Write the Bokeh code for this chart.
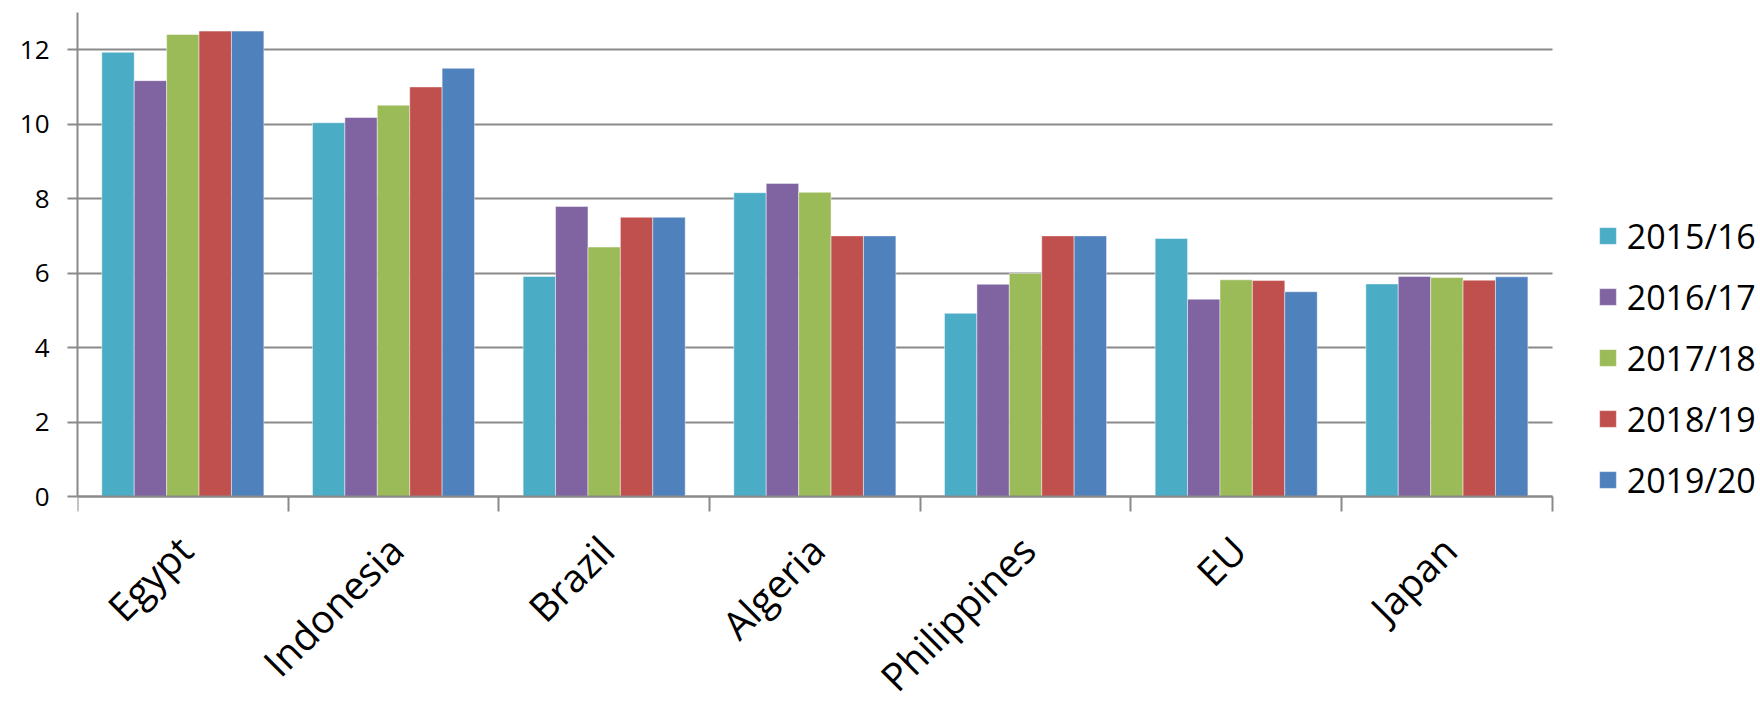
from math import pi
from bokeh.plotting import figure
from bokeh.models import (ColumnDataSource, Range1d, FixedTicker, Legend,
                          LegendItem, LabelSet)
from bokeh.transform import dodge
from bokeh.core.properties import value
from bokeh.embed import file_html
from bokeh.resources import INLINE

# ---- data -------------------------------------------------------------
countries = ["Egypt", "Indonesia", "Brazil", "Algeria", "Philippines", "EU", "Japan"]
seasons = ["2015/16", "2016/17", "2017/18", "2018/19", "2019/20"]
v_2015_16 = [11.93, 10.04, 5.91, 8.16, 4.92, 6.93, 5.71]
v_2016_17 = [11.17, 10.18, 7.79, 8.41, 5.70, 5.30, 5.91]
v_2017_18 = [12.41, 10.51, 6.70, 8.17, 5.99, 5.82, 5.88]
v_2018_19 = [12.50, 11.00, 7.50, 7.00, 7.00, 5.80, 5.81]
v_2019_20 = [12.50, 11.50, 7.50, 7.00, 7.00, 5.50, 5.90]
series = [v_2015_16, v_2016_17, v_2017_18, v_2018_19, v_2019_20]
colors = ["#4BACC6", "#8064A2", "#9BBB59", "#C0504D", "#4F81BD"]
y_ticks = [0, 2, 4, 6, 8, 10, 12]
y_max = 13

FONT = "Open Sans"
GRAY = "#8a8a8a"

# ---- layout (pixels) --------------------------------------------------
W, H = 1760, 706
LEFT, TOP = 77, 12
AXIS_Y = 496          # pixel row of value 0
AXIS_RIGHT = 1551.7   # pixel column where the category axis ends
n = len(countries)
px_per_unit = (AXIS_Y - TOP) / y_max
y_min = -(H - AXIS_Y) / px_per_unit             # room below the axis for labels
x_end = n * (W - LEFT) / (AXIS_RIGHT - LEFT)    # room right of the axis for legend

centers = [i + 0.5 for i in range(n)]
data = dict(x=centers, country=countries)
for s, vals in zip(seasons, series):
    data[s] = vals
src = ColumnDataSource(data)

p = figure(width=W, height=H, output_backend="svg", toolbar_location=None,
           title=None, x_range=Range1d(0, x_end), y_range=Range1d(y_min, y_max),
           min_border_left=LEFT, min_border_right=0, min_border_top=TOP,
           min_border_bottom=0)
p.outline_line_color = None
p.background_fill_color = "white"
p.border_fill_color = "white"

bar_w = 1 / 6.5
items = []
for k, (s, c) in enumerate(zip(seasons, colors)):
    r = p.vbar(x=dodge("x", (k - 2) * bar_w, range=p.x_range), top=s, width=bar_w,
               bottom=0, source=src, fill_color=c, line_color="white",
               line_alpha=0.45, line_width=1)
    items.append(LegendItem(label=s, renderers=[r]))

# y axis (only drawn over 0..y_max)
ya = p.yaxis[0]
ya.bounds = (0, y_max)
ya.ticker = FixedTicker(ticks=y_ticks)
ya.major_label_text_font = FONT
ya.major_label_text_font_size = "26px"
ya.major_label_text_color = "black"
ya.major_label_standoff = 18
ya.major_tick_in = 0
ya.major_tick_out = 10
ya.major_tick_line_color = GRAY
ya.major_tick_line_width = 2
ya.minor_tick_line_color = None
ya.axis_line_color = GRAY
ya.axis_line_width = 2

# x axis at value 0 with ticks between categories
xa = p.xaxis[0]
xa.fixed_location = 0
xa.bounds = (0, n)
xa.ticker = FixedTicker(ticks=[], minor_ticks=list(range(n + 1)))
xa.major_tick_line_color = None
xa.minor_tick_in = 0
xa.minor_tick_out = 15
xa.minor_tick_line_color = GRAY
xa.minor_tick_line_width = 2
xa.axis_line_color = GRAY
xa.axis_line_width = 2

p.xgrid.visible = False
p.ygrid.ticker = FixedTicker(ticks=y_ticks)
p.ygrid.cross_bounds = (0, n)
p.ygrid.grid_line_color = GRAY
p.ygrid.grid_line_width = 2

# rotated category labels
lab_src = ColumnDataSource(dict(x=centers, y=[0] * n, text=countries))
labels = LabelSet(x="x", y="y", text="text", source=lab_src, angle=pi / 4,
                  x_offset=2, y_offset=-46, text_align="right",
                  text_baseline="middle", text_font=value(FONT),
                  text_font_size="39px", text_color="black")
p.add_layout(labels)

legend = Legend(items=items, location=(1596.7 - LEFT, 203.5), orientation="vertical",
                label_text_font=FONT, label_text_font_size="34px",
                label_text_color="black", glyph_width=21, glyph_height=21,
                label_height=46, spacing=15, padding=0, margin=0,
                label_standoff=9, border_line_color=None,
                background_fill_alpha=0)
p.add_layout(legend)

open("out.html", "w").write(file_html(p, INLINE))
